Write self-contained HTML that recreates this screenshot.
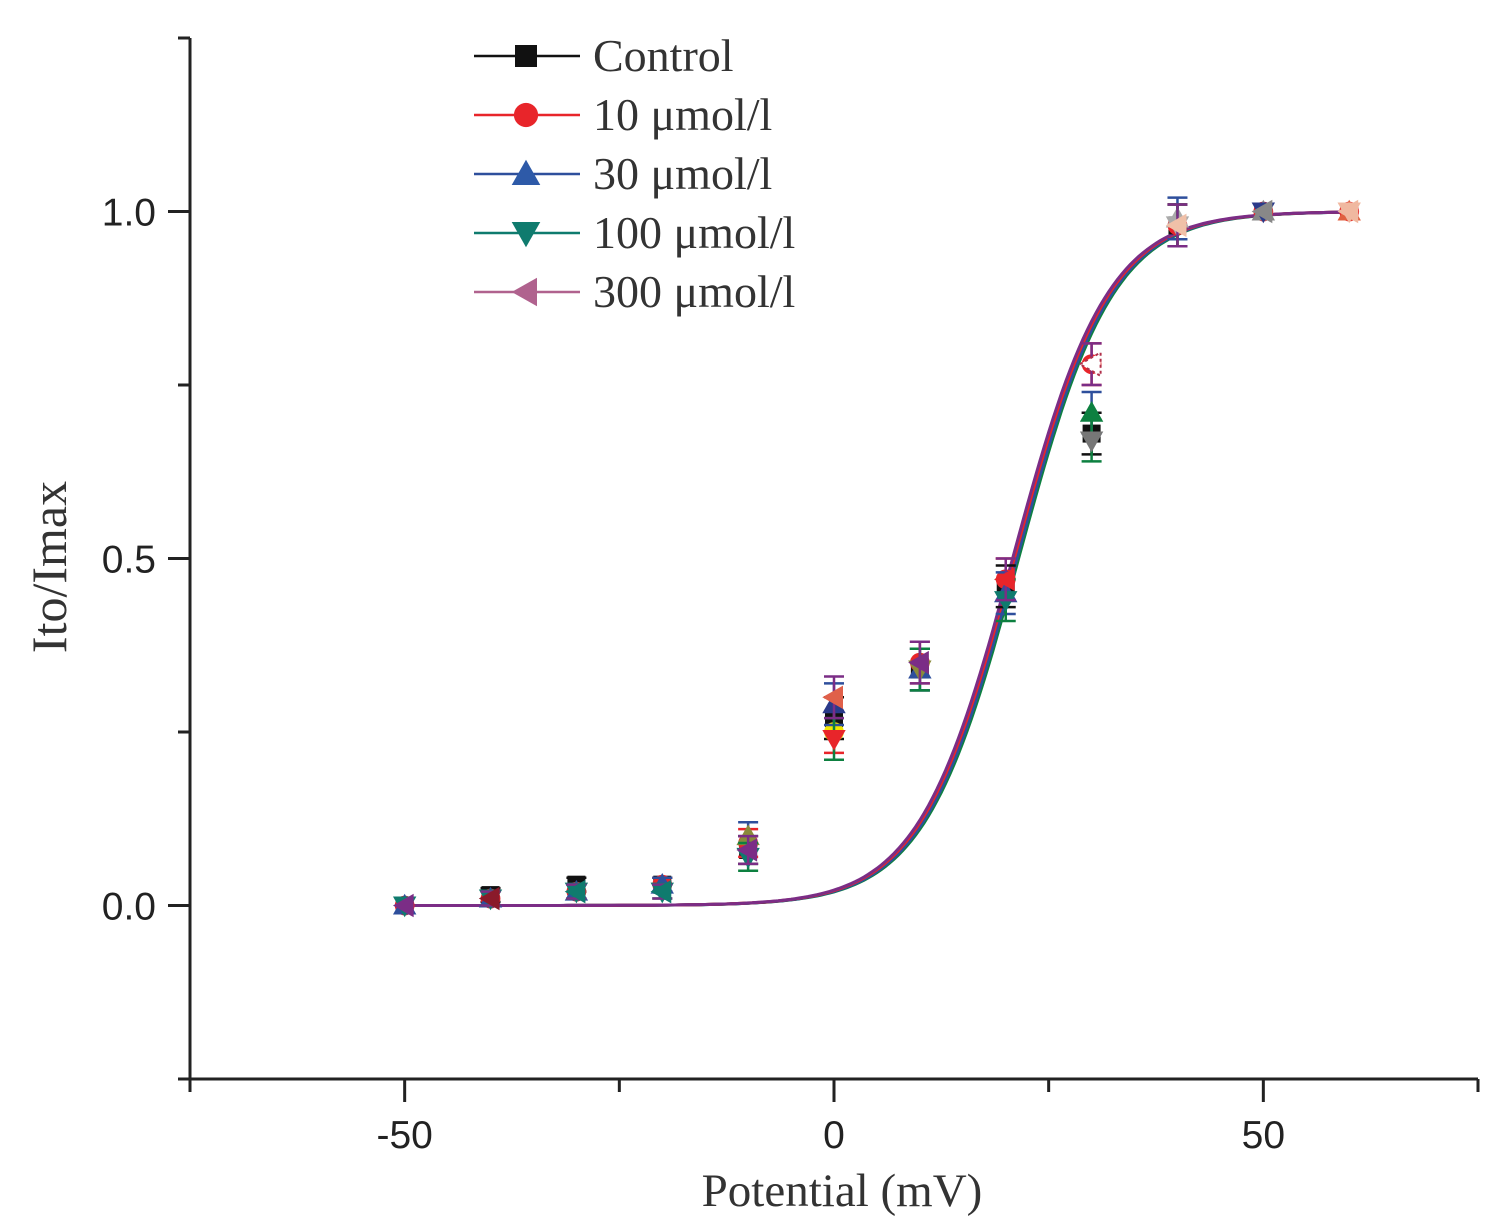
<!DOCTYPE html>
<html><head><meta charset="utf-8"><style>
html,body{margin:0;padding:0;background:#fff;}
svg{display:block;}
</style></head><body>
<svg id="chart" width="1506" height="1224" viewBox="0 0 1506 1224" xmlns="http://www.w3.org/2000/svg">
<g id="axes"></g>
<g id="curves"></g>
<g id="points"></g>
<g id="legend"></g>
<text x="842" y="1206" font-family="Liberation Serif, serif" font-size="47" fill="#333" text-anchor="middle">Potential (mV)</text>
<text transform="translate(66,567) rotate(-90)" font-family="Liberation Serif, serif" font-size="50" fill="#333" text-anchor="middle">Ito/Imax</text>
</svg>
<script>
const potentials = [-50,-40,-30,-20,-10,0,10,20,30,40,50,60];
const controlVals = [0,0.015,0.03,0.03,0.08,0.27,0.34,0.46,0.68,0.98,1,1];
const v10Vals = [0,0.01,0.02,0.03,0.09,0.25,0.35,0.47,0.78,0.98,1,1];
const v30Vals = [0,0.01,0.02,0.03,0.10,0.29,0.34,0.45,0.71,0.99,1,1];
const v100Vals = [0,0.01,0.02,0.02,0.07,0.24,0.34,0.44,0.67,0.98,1,1];
const v300Vals = [0,0.01,0.02,0.02,0.08,0.30,0.35,0.47,0.78,0.98,1,1];
const errVals = [0,0.01,0.01,0.01,0.02,0.03,0.03,0.03,0.03,0.03,0,0];
const seriesNames = ["Control","10 μmol/l","30 μmol/l","100 μmol/l","300 μmol/l"];
const fitHalf = [21.2,21.0,21.3,21.5,20.8];
const fitSlope = [5.5,5.5,5.5,5.5,5.5];
const xTicks = [-50,0,50];
const xMinorTicks = [-75,-25,25,75];
const yTicks = [0,0.5,1.0];
const yMinorTicks = [-0.25,0.25,0.75,1.25];

const NS="http://www.w3.org/2000/svg";
const X0=190,X1=1478,Y0=1079,Y1=38;
const xmin=-75,xmax=75,ymin=-0.25,ymax=1.25;
const sx=v=>X0+(v-xmin)/(xmax-xmin)*(X1-X0);
const sy=v=>Y0-(v-ymin)/(ymax-ymin)*(Y0-Y1);
function mk(tag,attrs,parent){const e=document.createElementNS(NS,tag);for(const k in attrs)e.setAttribute(k,attrs[k]);parent.appendChild(e);return e;}
const axes=document.getElementById('axes');
let e=mk('line',{x1:X0,y1:Y0,x2:X1,y2:Y0,stroke:'#222','stroke-width':3},axes);


e=mk('line',{x1:X0,y1:Y0+1,x2:X0,y2:Y1,stroke:'#222','stroke-width':3},axes);


xTicks.forEach(t=>{
  e=mk('line',{x1:sx(t),y1:Y0,x2:sx(t),y2:Y0+23,stroke:'#222','stroke-width':3},axes);
  
  
  e=mk('text',{x:sx(t),y:Y0+69,'font-family':'Liberation Sans, sans-serif','font-size':39,fill:'#222','text-anchor':'middle'},axes);
  e.textContent=String(t);
  
  
});
xMinorTicks.forEach(t=>{
  e=mk('line',{x1:sx(t),y1:Y0,x2:sx(t),y2:Y0+13,stroke:'#222','stroke-width':3},axes);
  
  
});
yTicks.forEach(t=>{
  e=mk('line',{x1:X0,y1:sy(t),x2:X0-22,y2:sy(t),stroke:'#222','stroke-width':3},axes);
  
  
  e=mk('text',{x:X0-34,y:sy(t)+14,'font-family':'Liberation Sans, sans-serif','font-size':39,fill:'#222','text-anchor':'end'},axes);
  e.textContent=t.toFixed(1);
  
  
});
yMinorTicks.forEach(t=>{
  e=mk('line',{x1:X0,y1:sy(t),x2:X0-12,y2:sy(t),stroke:'#222','stroke-width':3},axes);
  
  
});

const lineColors=['#111','#e8252a','#2e4f9c','#0d8040','#7b2d86'];
const allVals=[controlVals,v10Vals,v30Vals,v100Vals,v300Vals];
const curves=document.getElementById('curves');
[3,0,2,1,4].forEach(i=>{
  let d='';
  for(let v=-50;v<=60.01;v+=0.5){const y=1/(1+Math.exp((fitHalf[i]-v)/fitSlope[i]));d+=(d?'L':'M')+sx(v).toFixed(1)+','+sy(y).toFixed(1);}
  e=mk('path',{d:d,fill:'none',stroke:lineColors[i],'stroke-width':3},curves);
  
  
});

function marker(type,cx,cy,s,color,parent){
  let el;
  if(type===0) el=mk('rect',{x:cx-s,y:cy-s,width:2*s,height:2*s,fill:color},parent);
  else if(type===1) el=mk('circle',{cx:cx,cy:cy,r:s*1.1,fill:color},parent);
  else if(type===2) el=mk('polygon',{points:`${cx},${cy-s*1.3} ${cx+s*1.3},${cy+s} ${cx-s*1.3},${cy+s}`,fill:color},parent);
  else if(type===3) el=mk('polygon',{points:`${cx},${cy+s*1.3} ${cx+s*1.3},${cy-s} ${cx-s*1.3},${cy-s}`,fill:color},parent);
  else el=mk('polygon',{points:`${cx-s*1.3},${cy} ${cx+s},${cy-s*1.3} ${cx+s},${cy+s*1.3}`,fill:color},parent);
  return el;
}
const pts=document.getElementById('points');
const ptColors=[['#111','#111','#111','#111','#111','#111','#111','#111','#111','#111','#111','#111'],
 ['#e8252a','#e8252a','#e8252a','#e8252a','#e8252a','#f2e600','#e8252a','#e8252a','#e8252a','#e8252a','#e8252a','#e8252a'],
 ['#2e4f9c','#2e4f9c','#2e4f9c','#2e4f9c','#8a8a3a','#2a3a8a','#2e4f9c','#2e4f9c','#0d8040','#aaa','#888','#e06040'],
 ['#0f7b6e','#0f7b6e','#0f7b6e','#0f7b6e','#0f7b6e','#e8252a','#8a8a3a','#0f7b6e','#777','#aaa','#2a3a8a','#f0b8a0'],
 ['#7b2d86','#8a1a2a','#0f7b6e','#0f7b6e','#7b2d86','#e0604a','#7b2d86','#e8252a','#fff','#f0c0a8','#888','#f0b8a0']];
allVals.forEach((vals,i)=>{
  const g=mk('g',{},pts);
  
  
  potentials.forEach((p,j)=>{
    const cx=sx(p),cy=sy(vals[j]),ey=errVals[j]*694;
    if(errVals[j]>0){
      const eb=mk('path',{d:`M${cx},${cy-ey}V${cy+ey}M${cx-10},${cy-ey}H${cx+10}M${cx-10},${cy+ey}H${cx+10}`,stroke:lineColors[i],'stroke-width':2.5,fill:'none'},g);
      
      
    }
    const m=marker(i,cx,cy,9,ptColors[i][j],g);
    if(i===4&&j===8){m.setAttribute('stroke','#b0304a');m.setAttribute('stroke-dasharray','3,3');m.setAttribute('stroke-width','2');}
    
    
  });
});

const leg=document.getElementById('legend');
const legY=[56,115,174,233,292];
const legColors=['#111','#e8252a','#2e5aa8','#0f7b6e','#b0628e'];
const legLine=['#111','#e8252a','#2e4f9c','#0f7b6e','#b0628e'];
seriesNames.forEach((n,i)=>{
  const g=mk('g',{},leg);
  
  
  mk('line',{x1:474,y1:legY[i],x2:580,y2:legY[i],stroke:legLine[i],'stroke-width':2.5},g);
  marker(i,526,legY[i],11,legColors[i],g);
  const t=mk('text',{x:593,y:legY[i]+15,'font-family':'Liberation Serif, serif','font-size':46,fill:'#333'},g);
  t.textContent=n;
});
</script>
</body></html>
